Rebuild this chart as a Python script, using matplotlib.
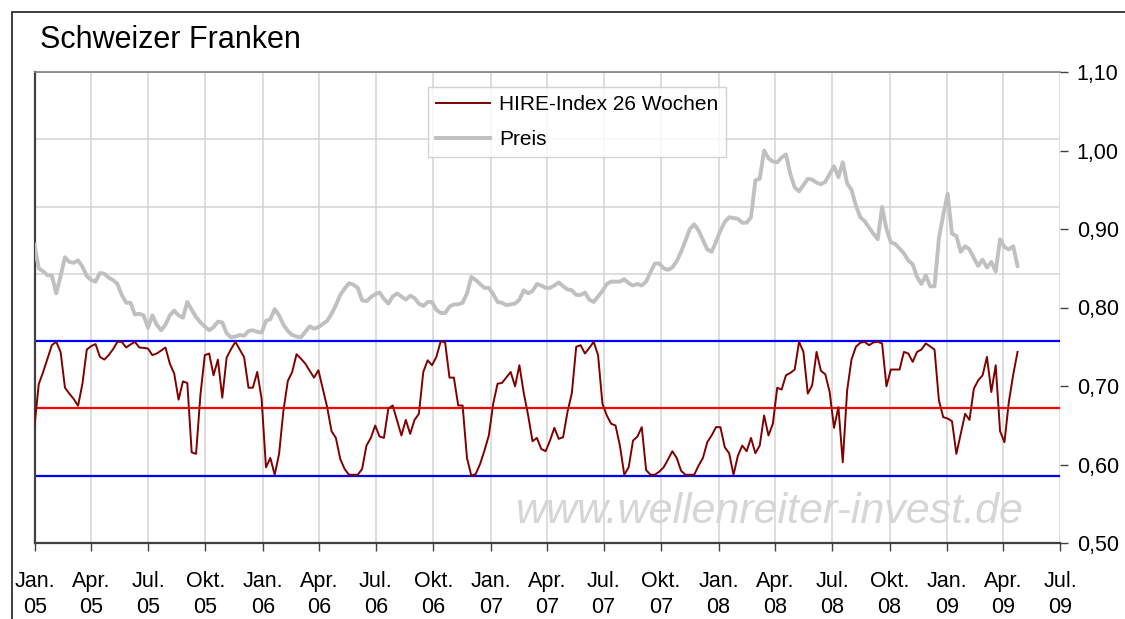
import matplotlib
matplotlib.use('Agg')
import matplotlib.pyplot as plt
import pandas as pd
from matplotlib.patches import Rectangle

plt.rcParams['font.family'] = ['Liberation Sans', 'DejaVu Sans']

# ---------------- data ----------------
start_date = '2004-12-31'   # weekly (Friday) observations

hire_index = [
    36, 68, 77, 87, 97, 99.5, 92, 65.4, 61, 57,
    52, 68.4, 93.8, 96.3, 97.8, 88.3, 86.3, 89.6, 94, 99.5,
    99.5, 95.3, 97.5, 99.5, 95.3, 95, 94.5, 89.6, 90.8, 93,
    95.3, 83.3, 75.9, 56.5, 70.1, 68.9, 17.4, 16.2, 60, 89.6,
    90.8, 74.6, 86.3, 58, 87.8, 94, 99.5, 93.8, 88, 65.4,
    65.4, 77.1, 57.2, 6.2, 13.2, 0.7, 16.2, 48.5, 70.4, 77.1,
    90.3, 87, 83.3, 78, 72.9, 78.4, 64.7, 51, 33.1, 28.1,
    12.4, 5, 0.7, 0.7, 0.7, 5, 22.4, 28.1, 37.3, 29.1,
    28.1, 49.8, 52.2, 41, 29.9, 41.5, 31.1, 41.5, 46, 77.1,
    85.8, 82.1, 88.3, 100, 99, 72.9, 72.9, 52.2, 52.2, 13.2,
    0, 1.2, 8.7, 18.7, 29.9, 53.5, 68.4, 68.9, 73, 77.1,
    66.4, 82.1, 61.4, 44.8, 25.6, 28.1, 19.9, 18.2, 26.1, 35.6,
    27.4, 28.6, 47.3, 61.4, 95.8, 97, 90.8, 95, 99.5, 89.6,
    53.5, 44.8, 38.6, 37.3, 22.4, 0.7, 6.2, 26.1, 29.1, 36.1,
    4.2, 0.7, 0.7, 3, 6.2, 12, 18.2, 13.2, 3.7, 0.7,
    0.7, 0.7, 7.5, 13.2, 24.9, 30, 36.1, 36.1, 21.1, 16.7,
    0.7, 14.9, 22.4, 18.2, 28.1, 16.7, 22.4, 44.8, 29.9, 38.6,
    65.4, 64, 74.6, 76.4, 78.9, 99.5, 92, 61, 67.2, 92,
    77.9, 75.4, 62.2, 35.6, 51, 10, 63.4, 86.3, 95.8, 98.8,
    99.5, 97, 99, 99.5, 98.3, 66.4, 78.9, 78.9, 78.9, 92,
    90.8, 84.6, 92, 93.8, 98.3, 96, 93.8, 56, 43.5, 42.5,
    40.5, 16.2, 31, 46, 41.5, 64.7, 70.9, 74.6, 88.3, 62.2,
    82.1, 33.1, 24.9, 54.7, 75, 92,
]

preis = [
    .880, .850, .846, .841, .841, .818, .840, .864, .858, .857,
    .860, .852, .840, .835, .833, .844, .843, .838, .835, .830,
    .816, .806, .806, .791, .792, .790, .774, .790, .778, .771,
    .778, .790, .796, .790, .787, .807, .797, .788, .781, .776,
    .771, .775, .782, .781, .767, .762, .763, .765, .764, .770,
    .771, .769, .768, .783, .785, .798, .790, .778, .770, .765,
    .763, .762, .769, .776, .773, .775, .779, .783, .792, .803,
    .816, .824, .831, .829, .825, .809, .808, .813, .817, .819,
    .811, .805, .814, .818, .814, .810, .815, .812, .805, .802,
    .807, .807, .797, .793, .793, .801, .804, .804, .806, .818,
    .839, .835, .830, .825, .825, .817, .807, .806, .803, .804,
    .805, .810, .822, .818, .821, .830, .828, .825, .825, .828,
    .832, .827, .823, .822, .816, .816, .819, .810, .807, .814,
    .821, .830, .833, .833, .833, .836, .831, .828, .830, .828,
    .833, .845, .856, .856, .850, .848, .851, .859, .871, .885,
    .900, .906, .898, .886, .874, .871, .884, .898, .909, .915,
    .914, .913, .908, .908, .915, .962, .964, 1.000, .990, .986,
    .985, .991, .995, .970, .953, .948, .956, .964, .963, .959,
    .957, .960, .970, .980, .966, .985, .958, .950, .930, .915,
    .910, .902, .894, .887, .928, .900, .883, .881, .875, .869,
    .860, .855, .839, .830, .841, .827, .827, .888, .918, .945,
    .894, .891, .871, .878, .874, .863, .853, .861, .851, .858,
    .846, .887, .877, .874, .878, .853,
]

band_upper = 100
band_mid = 50
band_lower = 0

hire_grid = [-50, 0, 50, 100, 150, 200, 250, 300]
price_ticks = [0.50, 0.60, 0.70, 0.80, 0.90, 1.00, 1.10]
month_names = {1: 'Jan.', 4: 'Apr.', 7: 'Jul.', 10: 'Okt.'}
x_start, x_end = '2005-01-01', '2009-07-01'

title = 'Schweizer Franken'
label_hire = 'HIRE-Index 26 Wochen'
label_preis = 'Preis'
watermark = 'www.wellenreiter-invest.de'

# ---------------- figure ----------------
W, H = 1125, 619
fig = plt.figure(figsize=(W / 100, H / 100), dpi=100)
fig.patch.set_facecolor('white')

ax = fig.add_axes([35 / W, (H - 543) / H, 1025 / W, 471 / H])
ax2 = ax.twinx()

dates = pd.date_range(start_date, periods=len(hire_index), freq='7D')
tick_dates = pd.date_range(x_start, x_end, freq='QS')

# HIRE axis (hidden scale, carries the horizontal grid)
ax.set_ylim(hire_grid[0], hire_grid[-1])
ax.set_yticks(hire_grid)
ax.tick_params(axis='y', left=False, labelleft=False, right=False)
ax.grid(True, axis='both', color='#d4d4d4', linewidth=1.1)
ax.set_axisbelow(True)

ax.axhline(band_upper, color='#0000ff', lw=1.6, zorder=2)
ax.axhline(band_lower, color='#0000ff', lw=1.6, zorder=2)
ax.axhline(band_mid, color='#ff0000', lw=1.6, zorder=2)
l1, = ax.plot(dates, hire_index, color='#800000', lw=1.4, zorder=3)

# price axis
ax2.set_ylim(price_ticks[0], price_ticks[-1])
ax2.set_yticks(price_ticks)
ax2.set_yticklabels([f'{v:.2f}'.replace('.', ',') for v in price_ticks])
l2, = ax2.plot(dates, preis, color='#c0c0c0', lw=2.8, zorder=3)
ax2.tick_params(axis='y', right=True, labelright=True, direction='out',
                length=6, width=1, color='#404040', labelsize=15.5, pad=6)

ax.set_xlim(pd.Timestamp(x_start), pd.Timestamp(x_end))
ax.set_xticks(tick_dates)
ax.set_xticklabels([f'{month_names[d.month]}\n{d.strftime("%y")}' for d in tick_dates],
                   linespacing=1.35)
ax.tick_params(axis='x', direction='out', length=6, width=1, color='#404040',
               labelsize=15.5, pad=14)

for a in (ax, ax2):
    for s in a.spines.values():
        s.set_visible(False)
ax.spines['left'].set_visible(True)
ax.spines['left'].set_color('#404040')
ax.spines['left'].set_linewidth(1.6)
ax.spines['bottom'].set_visible(True)
ax.spines['bottom'].set_color('#404040')
ax.spines['bottom'].set_linewidth(1.6)
ax.spines['top'].set_visible(True)
ax.spines['top'].set_color('#808080')
ax.spines['top'].set_linewidth(1.2)

leg = ax2.legend([l1, l2], [label_hire, label_preis], loc='upper left',
                 bbox_to_anchor=(428 / W, 1 - 87 / H), bbox_transform=fig.transFigure,
                 borderaxespad=0, fontsize=15, frameon=True, fancybox=False,
                 handlelength=2.6, handletextpad=0.4, labelspacing=0.75,
                 borderpad=0.4)
leg.get_frame().set_edgecolor('#c8c8c8')
leg.get_frame().set_linewidth(1.0)
leg.set_zorder(10)

fig.text(40 / W, 1 - 40 / H, title, fontsize=22, ha='left', va='center')
fig.text(770 / W, 1 - 512 / H, watermark, fontsize=31, style='italic',
         color='#d6d6d6', ha='center', va='center')

fig.patches.append(Rectangle((12 / W, -0.05), 1.2, (H - 12) / H + 0.05,
                             transform=fig.transFigure, fill=False,
                             edgecolor='#303030', linewidth=1.3))

fig.savefig('out.png', dpi=100)
